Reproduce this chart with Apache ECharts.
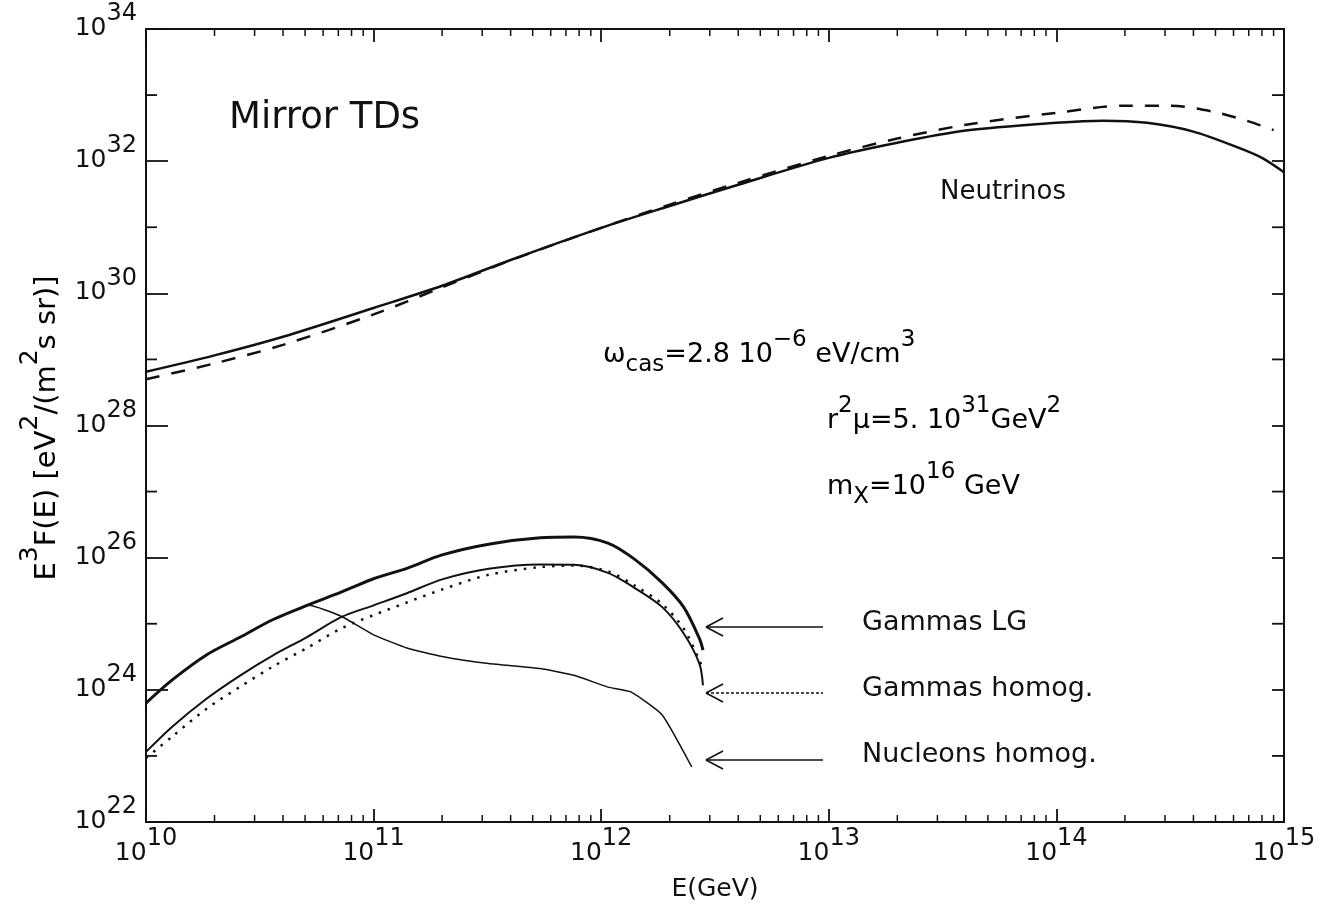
<!DOCTYPE html>
<html><head><meta charset="utf-8">
<script src="https://cdn.jsdelivr.net/npm/echarts@6/dist/echarts.min.js"></script>
<style>html,body{margin:0;padding:0;background:#fff}#c{width:1319px;height:909px}</style>
</head><body><div id="c"></div>
<script>
// ---------- data (E in GeV, E^3 F(E) in eV^2/(m^2 s sr)) ----------
const nuSolidE = [1e10, 2e10, 4e10, 1e11, 2e11, 4e11, 1e12, 2e12, 4e12, 1e13, 2e13, 4e13, 1e14, 1.6e14, 2.5e14, 4e14, 6.3e14, 8e14, 1e15];
const nuSolidF = [6.5e28, 1.15e29, 2.2e29, 6.0e29, 1.3e30, 3.2e30, 9.8e30, 2.1e31, 4.4e31, 1.12e32, 1.9e32, 2.9e32, 3.8e32, 4.1e32, 3.8e32, 2.8e32, 1.6e32, 1.12e32, 6.8e31];
const nuDashE = [1e10, 2e10, 4e10, 1e11, 2e11, 4e11, 1e12, 2e12, 4e12, 1e13, 2e13, 4e13, 1e14, 2e14, 3.2e14, 5e14, 7e14, 9e14];
const nuDashF = [5.0e28, 8.7e28, 1.66e29, 4.8e29, 1.23e30, 3.16e30, 9.8e30, 2.2e31, 4.7e31, 1.2e32, 2.2e32, 3.55e32, 5.4e32, 6.9e32, 6.9e32, 5.5e32, 4.0e32, 2.95e32];
const gammaE = [1e10, 1.3e10, 1.85e10, 2.6e10, 3.6e10, 5.1e10, 7.2e10, 1e11, 1.4e11, 2e11, 3.2e11, 5.4e11, 7.6e11, 1.07e12, 1.4e12, 1.85e12, 2.3e12, 2.7e12, 2.8e12];
const gammaLGF = [6.3e23, 1.4e24, 3.4e24, 6.3e24, 1.15e25, 1.9e25, 3.0e25, 4.8e25, 6.9e25, 1.1e26, 1.6e26, 2.0e26, 2.05e26, 1.66e26, 9.5e25, 4.2e25, 1.8e25, 6.0e24, 4.0e24];
const gammaHomF = [1.15e23, 2.75e23, 7.4e23, 1.66e24, 3.3e24, 6.3e24, 1.26e25, 1.9e25, 2.9e25, 4.7e25, 6.8e25, 7.9e25, 7.8e25, 5.9e25, 3.5e25, 1.8e25, 7.2e24, 2.5e24, 1.17e24];
const gammaHomDotF = [9.3e22, 1.95e23, 5.2e23, 1.12e24, 2.24e24, 4.3e24, 8.5e24, 1.35e25, 2.1e25, 3.3e25, 5.5e25, 7.2e25, 7.6e25, 6.2e25, 3.8e25, 2.0e25, 8.5e24, 2.8e24, 2.0e24];
const nucE = [4.7e10, 5.2e10, 7.2e10, 1e11, 1.4e11, 2e11, 3.2e11, 5.4e11, 7.6e11, 1.07e12, 1.35e12, 1.85e12, 2.5e12];
const nucF = [1.66e25, 1.9e25, 1.3e25, 6.8e24, 4.3e24, 3.2e24, 2.5e24, 2.1e24, 1.66e24, 1.1e24, 9.3e23, 4.2e23, 6.8e22];

// tick positions
const minorMult = [2, 3, 4, 5, 6, 7, 8, 9];
const minorDecades = [1e10, 1e11, 1e12, 1e13, 1e14];
const yOddTicks = [1e23, 1e25, 1e27, 1e29, 1e31, 1e33];

const FONT = 'DejaVu Sans';
const INK = '#111';

const xMinorTicks = [];
minorDecades.forEach(d => minorMult.forEach(m => xMinorTicks.push([m * d, 1e28])));
const yMinorTicks = yOddTicks.map(v => [1e12, v]);
const pairs = (xs, ys) => xs.map((x, i) => [x, ys[i]]);

function expLabel(v) {
  return '{b|10}{s|' + Math.round(Math.log10(v)) + '}';
}
const labelRich = {
  b: { fontSize: 25, fontFamily: FONT, color: INK, verticalAlign: 'bottom' },
  s: { fontSize: 24, fontFamily: FONT, color: INK, verticalAlign: 'bottom', padding: [0, 0, 15, 0] }
};
const annRich = {
  n: { fontSize: 27, fontFamily: FONT, color: INK, verticalAlign: 'bottom', padding: [0, 0, 9, 0] },
  sup: { fontSize: 23, fontFamily: FONT, color: INK, verticalAlign: 'bottom', padding: [0, 0, 25, 0] },
  sub: { fontSize: 23, fontFamily: FONT, color: INK, verticalAlign: 'bottom' }
};
const nameRich = {
  n: { fontSize: 29, fontFamily: FONT, color: INK, verticalAlign: 'bottom' },
  sup: { fontSize: 25, fontFamily: FONT, color: INK, verticalAlign: 'bottom', padding: [0, 0, 19, 0] }
};

function xTickRender(params, api) {
  const cs = params.coordSys;
  const px = api.coord([api.value(0), api.value(1)])[0];
  const b = cs.y + cs.height, t = cs.y;
  const st = { stroke: INK, lineWidth: 1.5 };
  return { type: 'group', children: [
    { type: 'line', shape: { x1: px, y1: b, x2: px, y2: b - 7 }, style: st },
    { type: 'line', shape: { x1: px, y1: t, x2: px, y2: t + 7 }, style: st }
  ] };
}
function yTickRender(params, api) {
  const cs = params.coordSys;
  const py = api.coord([api.value(0), api.value(1)])[1];
  const l = cs.x, r = cs.x + cs.width;
  const st = { stroke: INK, lineWidth: 1.8 };
  return { type: 'group', children: [
    { type: 'line', shape: { x1: l, y1: py, x2: l + 11, y2: py }, style: st },
    { type: 'line', shape: { x1: r, y1: py, x2: r - 12, y2: py }, style: st }
  ] };
}

function arrow(y, dash) {
  const st = { stroke: INK, lineWidth: 1.5 };
  return { type: 'group', children: [
    { type: 'line', shape: { x1: 706, y1: y, x2: 823, y2: y }, style: dash ? { stroke: INK, lineWidth: 1.5, lineDash: [3, 2] } : st },
    { type: 'line', shape: { x1: 706, y1: y, x2: 723, y2: y - 9 }, style: st },
    { type: 'line', shape: { x1: 706, y1: y, x2: 723, y2: y + 9 }, style: st }
  ] };
}
function plainText(x, y, txt, size) {
  return { type: 'text', x: x, y: y, style: { text: txt, fontSize: size, fontFamily: FONT, fill: INK, align: 'left', verticalAlign: 'middle' } };
}

const axisLineStyle = { color: INK, width: 2 };
const option = {
  backgroundColor: '#fff',
  animation: false,
  grid: { left: 146, right: 35, top: 29, bottom: 87, containLabel: false },
  xAxis: [
    { type: 'log', logBase: 10, min: 1e10, max: 1e15, interval: 1, position: 'bottom',
      axisLine: { lineStyle: axisLineStyle }, splitLine: { show: false },
      axisTick: { inside: true, length: 13, lineStyle: { color: INK, width: 1.8 } },
      axisLabel: { formatter: expLabel, rich: labelRich, margin: 5, showMinLabel: true, showMaxLabel: true },
      name: 'E(GeV)', nameLocation: 'middle', nameGap: 55,
      nameTextStyle: { fontSize: 25, fontFamily: FONT, color: INK } },
    { type: 'log', logBase: 10, min: 1e10, max: 1e15, interval: 1, position: 'top',
      axisLine: { lineStyle: axisLineStyle }, splitLine: { show: false },
      axisTick: { inside: true, length: 13, lineStyle: { color: INK, width: 1.8 } },
      axisLabel: { show: false } }
  ],
  yAxis: [
    { type: 'log', logBase: 10, min: 1e22, max: 1e34, interval: 2, position: 'left',
      axisLine: { lineStyle: axisLineStyle }, splitLine: { show: false },
      axisTick: { inside: true, length: 22, lineStyle: { color: INK, width: 1.8 } },
      axisLabel: { formatter: expLabel, rich: labelRich, margin: 9, padding: [0, 0, 15, 0], showMinLabel: true, showMaxLabel: true } },
    { type: 'log', logBase: 10, min: 1e22, max: 1e34, interval: 2, position: 'right',
      axisLine: { lineStyle: axisLineStyle }, splitLine: { show: false },
      axisTick: { inside: true, length: 12, lineStyle: { color: INK, width: 1.8 } },
      axisLabel: { show: false } }
  ],
  series: [
    { type: 'custom', name: 'xminor', renderItem: xTickRender, data: xMinorTicks, silent: true, clip: false, z: 5 },
    { type: 'custom', name: 'yminor', renderItem: yTickRender, data: yMinorTicks, silent: true, clip: false, z: 5 },
    { type: 'line', name: 'Neutrinos (solid)', data: pairs(nuSolidE, nuSolidF), showSymbol: false, smooth: 0.3,
      lineStyle: { color: INK, width: 2.5 } },
    { type: 'line', name: 'Neutrinos (dashed)', data: pairs(nuDashE, nuDashF), showSymbol: false, smooth: 0.3,
      lineStyle: { color: INK, width: 2.5, type: [14, 12] } },
    { type: 'line', name: 'Gammas LG', data: pairs(gammaE, gammaLGF), showSymbol: false, smooth: 0.3,
      lineStyle: { color: INK, width: 3 } },
    { type: 'line', name: 'Gammas homog.', data: pairs(gammaE, gammaHomF), showSymbol: false, smooth: 0.3,
      lineStyle: { color: INK, width: 2 } },
    { type: 'line', name: 'Gammas homog. (dotted)', data: pairs(gammaE, gammaHomDotF), showSymbol: false, smooth: 0.3,
      lineStyle: { color: INK, width: 2.5, type: [2.5, 7] } },
    { type: 'line', name: 'Nucleons homog.', data: pairs(nucE, nucF), showSymbol: false, smooth: 0.15,
      lineStyle: { color: INK, width: 1.5 } }
  ],
  graphic: [
    plainText(229, 118, 'Mirror TDs', 37),
    plainText(940, 192, 'Neutrinos', 26),
    plainText(862, 623, 'Gammas LG', 27),
    plainText(862, 689, 'Gammas homog.', 27),
    plainText(862, 755, 'Nucleons homog.', 27),
    { type: 'text', x: 603, y: 377, style: { text: '{n|ω}{sub|cas}{n|=2.8 10}{sup|−6}{n| eV/cm}{sup|3}', rich: annRich, align: 'left', verticalAlign: 'bottom' } },
    { type: 'text', x: 827, y: 443, style: { text: '{n|r}{sup|2}{n|μ=5. 10}{sup|31}{n|GeV}{sup|2}', rich: annRich, align: 'left', verticalAlign: 'bottom' } },
    { type: 'text', x: 827, y: 509, style: { text: '{n|m}{sub|X}{n|=10}{sup|16}{n| GeV}', rich: annRich, align: 'left', verticalAlign: 'bottom' } },
    { type: 'text', x: 40, y: 428, rotation: Math.PI / 2,
      style: { text: '{n|E}{sup|3}{n|F(E) [eV}{sup|2}{n|/(m}{sup|2}{n|s sr)]}', rich: nameRich, align: 'center', verticalAlign: 'middle' } },
    arrow(627, false),
    arrow(693, true),
    arrow(760, false)
  ]
};
const chart = echarts.init(document.getElementById('c'), null, { renderer: 'canvas' });
chart.setOption(option);
</script>
</body></html>
